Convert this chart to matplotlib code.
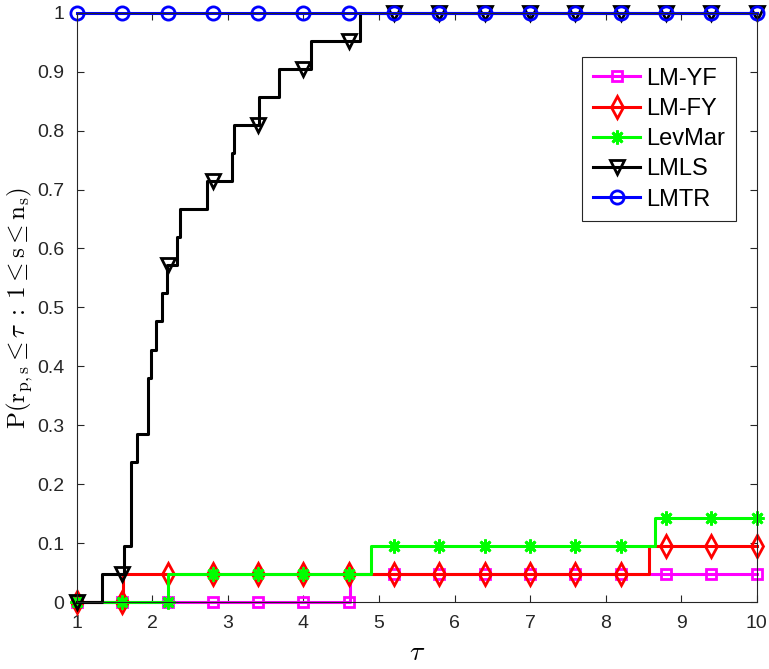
import numpy as np
import matplotlib
matplotlib.use("Agg")
import matplotlib.pyplot as plt

# performance profile data (21 problems)
n_problems = 21
tau_marks = [1.0, 1.6, 2.2, 2.8, 3.4, 4.0, 4.6, 5.2, 5.8, 6.4, 7.0, 7.6, 8.2, 8.8, 9.4, 10.0]

lmyf_tau = [4.61]
lmyf_count = [1]

lmfy_tau = [1.605, 8.57]
lmfy_count = [1, 2]

levmar_tau = [2.21, 4.89, 8.65]
levmar_count = [1, 2, 3]

lmls_tau = [1.327, 1.626, 1.715, 1.80, 1.935, 1.975, 2.05, 2.13, 2.19, 2.33,
            2.36, 2.72, 3.05, 3.08, 3.41, 3.67, 4.105, 4.745]
lmls_count = [1, 2, 5, 6, 8, 9, 10, 11, 12, 13, 14, 15, 16, 17, 18, 19, 20, 21]

lmtr_tau = [1.0]
lmtr_count = [21]

names = ["LM-YF", "LM-FY", "LevMar", "LMLS", "LMTR"]


def profile(breaks, counts):
    # step curve on a grid that holds both the jumps and the marker positions
    grid = np.unique(np.concatenate([tau_marks, breaks, [1.0, 10.0]]))
    vals = np.zeros(len(grid))
    for b, c in zip(breaks, counts):
        vals[grid >= b] = c
    idx = [int(np.argmin(np.abs(grid - t))) for t in tau_marks]
    return grid, vals / n_problems, idx


plt.rcParams["font.family"] = ["Liberation Sans", "DejaVu Sans"]
plt.rcParams["mathtext.fontset"] = "cm"

fig = plt.figure(figsize=(7.69, 6.69), dpi=100)
ax = fig.add_axes([0.100, 0.100, 0.884, 0.881])

styles = [
    dict(color="#ff00ff", marker="s", ms=7),
    dict(color="#ff0000", marker="d", ms=11),
    dict(color="#00ff00", marker=(8, 2, 0), ms=10),
    dict(color="#000000", marker="v", ms=10),
    dict(color="#0000ff", marker="o", ms=9.5),
]
data = [(lmyf_tau, lmyf_count), (lmfy_tau, lmfy_count), (levmar_tau, levmar_count),
        (lmls_tau, lmls_count), (lmtr_tau, lmtr_count)]

for name, (b, c), st in zip(names, data, styles):
    x, y, idx = profile(b, c)
    ax.plot(x, y, drawstyle="steps-post", lw=2.2, color=st["color"],
            marker=st["marker"], ms=st["ms"], markevery=idx,
            mfc="none", mec=st["color"], mew=2, clip_on=False, label=name)

ax.set_xlim(1, 10)
ax.set_ylim(0, 1)
ax.set_xticks(range(1, 11))
ax.set_yticks(np.arange(0, 1.01, 0.1))
ax.set_yticklabels(["0", "0.1", "0.2", "0.3", "0.4", "0.5", "0.6", "0.7", "0.8", "0.9", "1"])
ax.tick_params(direction="in", length=5, width=0.8, colors="#262626", labelsize=14,
               top=True, right=True)
ax.tick_params(axis="x", pad=9)
ax.tick_params(axis="y", pad=9)
for s in ax.spines.values():
    s.set_color("#262626")
    s.set_linewidth(0.8)

ax.set_xlabel(r"$\tau$", fontsize=20, labelpad=6)
ax.set_ylabel(r"$\mathrm{P}(\mathrm{r}_{\mathrm{p,s}} \leq \tau \;:\; 1 \leq \mathrm{s} \leq \mathrm{n}_{\mathrm{s}})$",
              fontsize=18)
ax.yaxis.set_label_coords(-0.062, 0.5)

leg = ax.legend(loc="upper right", bbox_to_anchor=(0.969, 0.925), fontsize=17,
                handlelength=2.0, fancybox=False, framealpha=1, borderpad=0.45,
                labelspacing=0.35, handletextpad=0.25, borderaxespad=0)
leg.get_frame().set_edgecolor("#262626")
leg.get_frame().set_linewidth(0.8)

fig.savefig("out.png", dpi=100)
